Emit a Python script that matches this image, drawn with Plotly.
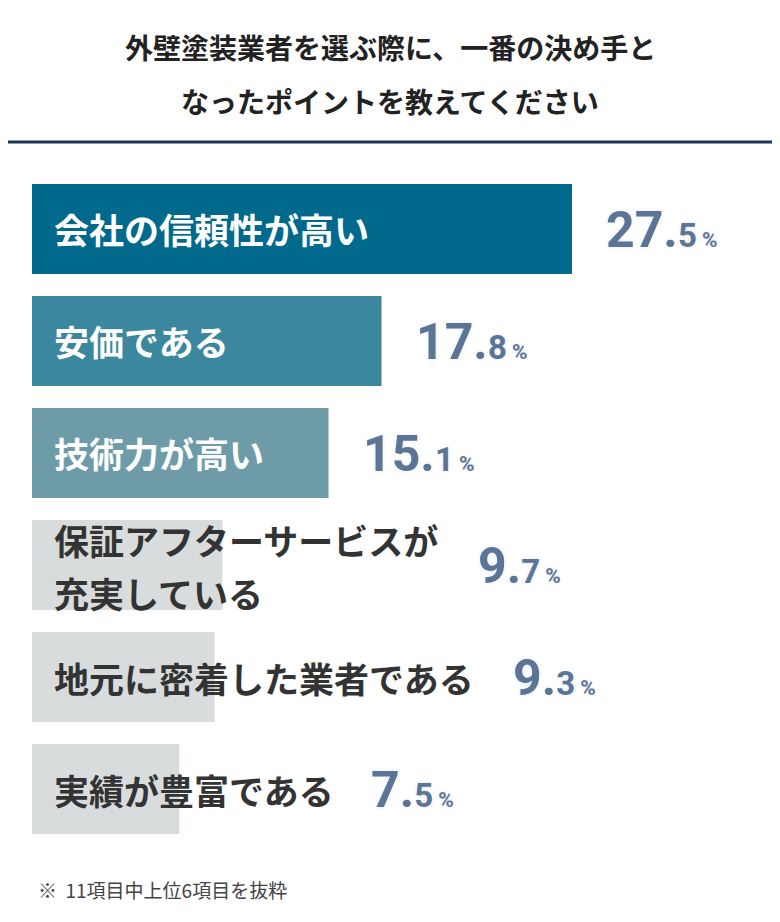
import plotly.graph_objects as go

# data
items = ['会社の信頼性が高い', '安価である', '技術力が高い', '保証アフターサービスが<br>充実している',
         '地元に密着した業者である', '実績が豊富である']
values = [27.5, 17.8, 15.1, 9.7, 9.3, 7.5]
bar_colors = ['#00698c', '#3b879e', '#6e9ba8', '#d9dcdd', '#d9dcdd', '#d9dcdd']
text_colors = ['white', 'white', 'white', '#333333', '#333333', '#333333']

# page adds an 8px margin, so work in shifted pixel coords
OFF = 8
W, H = 780 - 2 * OFF, 922 - 2 * OFF
left, top, bottom = 32 - OFF, 173 - OFF, 845 - OFF
x_max = 27.5 * (W - left) / 540.0
px_per = (W - left) / x_max
char_w = 35.6
JP = 'Noto Sans CJK JP'

fig = go.Figure(go.Bar(
    x=values, y=list(range(len(values))), orientation='h',
    marker=dict(color=bar_colors, line=dict(width=0)),
    width=0.804, hoverinfo='skip'))

ann = []
for i, (name, v) in enumerate(zip(items, values)):
    lines = name.split('<br>')
    if len(lines) == 1:
        ann.append(dict(x=0, y=i, xref='x', yref='y', text='<b>%s</b>' % name, showarrow=False,
                        xanchor='left', xshift=20, font=dict(family=JP, size=35, color=text_colors[i])))
    else:
        for k, ln in enumerate(lines):
            ann.append(dict(x=0, y=i, xref='x', yref='y', text='<b>%s</b>' % ln, showarrow=False,
                            xanchor='left', xshift=20, yshift=26 - 53 * k,
                            font=dict(family=JP, size=35, color=text_colors[i])))
    label_end = 20 + char_w * max(len(l) for l in lines)
    bar_end = v * px_per
    shift = max(bar_end, label_end) + 32 - bar_end
    num, dec = ('%.1f' % v).split('.')
    ann.append(dict(x=v, y=i, xref='x', yref='y', showarrow=False, xanchor='left', xshift=shift,
                    yshift=-1,
                    text='<b>%s.<span style="font-size:33px">%s</span><span style="font-size:21px"> %%</span></b>' % (num, dec),
                    font=dict(family='Roboto', size=50, color='#5b7596',
                              shadow='0px 0px 4px #e6e9ee')))

ann.append(dict(x=0.5, y=1 - (47 - OFF - 22) / H, xref='paper', yref='paper', showarrow=False,
                text='<b>外壁塗装業者を選ぶ際に、一番の決め手と</b>',
                font=dict(family=JP, size=28, color='#222222')))
ann.append(dict(x=0.5, y=1 - (101 - OFF - 22) / H, xref='paper', yref='paper', showarrow=False,
                text='<b>なったポイントを教えてください</b>',
                font=dict(family=JP, size=28, color='#222222')))
ann.append(dict(x=(36 - OFF) / W, y=1 - (905 - OFF) / H, xref='paper', yref='paper', showarrow=False,
                xanchor='left',
                text='※  11項目中上位6項目を抜粋', font=dict(family=JP, size=19, color='#444444')))

fig.update_layout(
    width=W, height=H, margin=dict(l=0, r=0, t=0, b=0),
    plot_bgcolor='white', paper_bgcolor='white', showlegend=False,
    xaxis=dict(domain=[left / W, 1], range=[0, x_max], visible=False, fixedrange=True),
    yaxis=dict(domain=[1 - bottom / H, 1 - top / H], range=[len(values) - 0.5, -0.5],
               visible=False, fixedrange=True),
    annotations=ann,
    shapes=[dict(type='line', xref='paper', yref='paper', x0=-0.02, x1=1.02,
                 y0=1 - (142 - OFF) / H, y1=1 - (142 - OFF) / H,
                 line=dict(color='#1d3658', width=3))])

fig.write_html('out.html')
